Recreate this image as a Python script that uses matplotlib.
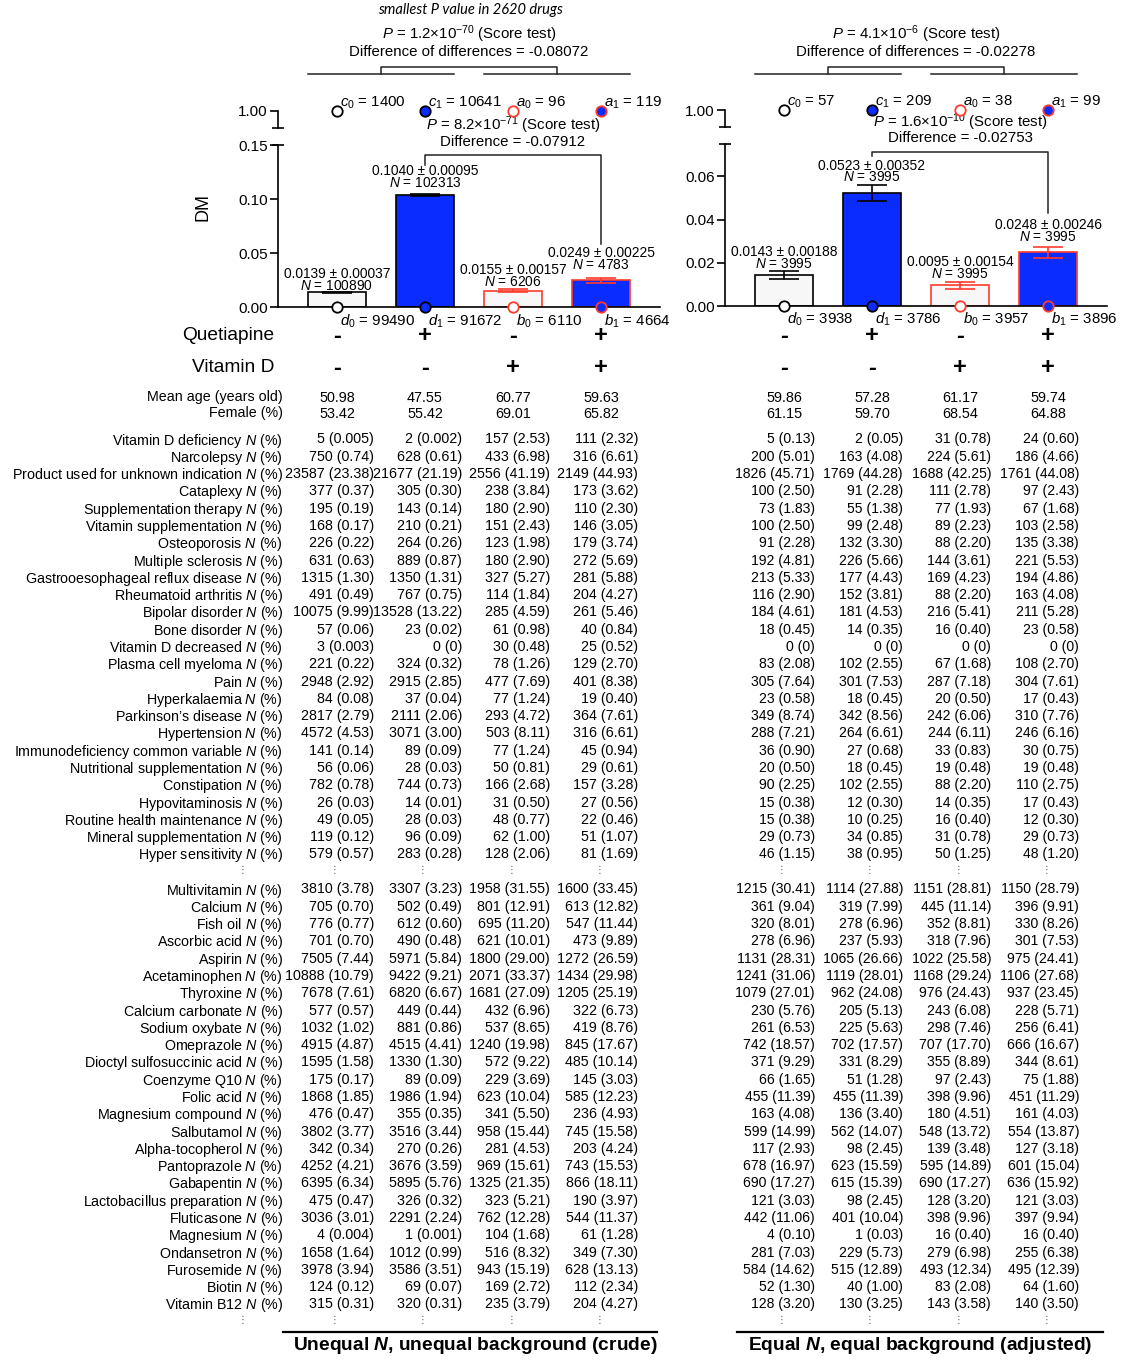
import matplotlib
matplotlib.use("Agg")
import matplotlib.pyplot as plt
from matplotlib import font_manager
from matplotlib.ticker import FormatStrFormatter

W, H = 1123, 1360
BLUE = "#0a2cff"
RED = "#ff3b2b"
PALE = "#f7f7f7"

plt.rcParams["font.family"] = "Liberation Sans"
plt.rcParams["mathtext.fontset"] = "custom"
plt.rcParams["mathtext.rm"] = "Liberation Sans"
plt.rcParams["mathtext.it"] = "Liberation Sans:italic"
plt.rcParams["mathtext.bf"] = "Liberation Sans:bold"
plt.rcParams["mathtext.bfit"] = "Liberation Sans:italic:bold"

installed = {f.name for f in font_manager.fontManager.ttflist}
NARROW = "Liberation Sans Narrow" in installed
LEFT_FONT = "Liberation Sans Narrow" if NARROW else "Liberation Sans"
LEFT_SIZE = 12.4 if NARROW else 10.3

# ---- bar data ----
quetiapine_signs = ["-", "+", "-", "+"]
vitamin_d_signs = ["-", "-", "+", "+"]
top_names = ["c_0", "c_1", "a_0", "a_1"]
bottom_names = ["d_0", "d_1", "b_0", "b_1"]

crude_dm = [0.0139, 0.1040, 0.0155, 0.0249]
crude_err = [0.00037, 0.00095, 0.00157, 0.00225]
crude_n = [100890, 102313, 6206, 4783]
crude_top = [1400, 10641, 96, 119]
crude_bottom = [99490, 91672, 6110, 4664]
crude_pair = ("8.2×10$^{-71}$", "-0.07912")
crude_group = ("1.2×10$^{-70}$", "-0.08072")

adj_dm = [0.0143, 0.0523, 0.0095, 0.0248]
adj_err = [0.00188, 0.00352, 0.00154, 0.00246]
adj_n = [3995, 3995, 3995, 3995]
adj_top = [57, 209, 38, 99]
adj_bottom = [3938, 3786, 3957, 3896]
adj_pair = ("1.6×10$^{-10}$", "-0.02753")
adj_group = ("4.1×10$^{-6}$", "-0.02278")

# ---- background table ----
crude_age = ["50.98", "47.55", "60.77", "59.63"]
crude_female = ["53.42", "55.42", "69.01", "65.82"]
adj_age = ["59.86", "57.28", "61.17", "59.74"]
adj_female = ["61.15", "59.70", "68.54", "64.88"]

indications = [
    "Vitamin D deficiency", "Narcolepsy", "Product used for unknown indication",
    "Cataplexy", "Supplementation therapy", "Vitamin supplementation",
    "Osteoporosis", "Multiple sclerosis", "Gastrooesophageal reflux disease",
    "Rheumatoid arthritis", "Bipolar disorder", "Bone disorder",
    "Vitamin D decreased", "Plasma cell myeloma", "Pain", "Hyperkalaemia",
    "Parkinson’s disease", "Hypertension", "Immunodeficiency common variable",
    "Nutritional supplementation", "Constipation", "Hypovitaminosis",
    "Routine health maintenance", "Mineral supplementation", "Hyper sensitivity",
]
crude_indications = [
    ["5 (0.005)", "2 (0.002)", "157 (2.53)", "111 (2.32)"],
    ["750 (0.74)", "628 (0.61)", "433 (6.98)", "316 (6.61)"],
    ["23587 (23.38)", "21677 (21.19)", "2556 (41.19)", "2149 (44.93)"],
    ["377 (0.37)", "305 (0.30)", "238 (3.84)", "173 (3.62)"],
    ["195 (0.19)", "143 (0.14)", "180 (2.90)", "110 (2.30)"],
    ["168 (0.17)", "210 (0.21)", "151 (2.43)", "146 (3.05)"],
    ["226 (0.22)", "264 (0.26)", "123 (1.98)", "179 (3.74)"],
    ["631 (0.63)", "889 (0.87)", "180 (2.90)", "272 (5.69)"],
    ["1315 (1.30)", "1350 (1.31)", "327 (5.27)", "281 (5.88)"],
    ["491 (0.49)", "767 (0.75)", "114 (1.84)", "204 (4.27)"],
    ["10075 (9.99)", "13528 (13.22)", "285 (4.59)", "261 (5.46)"],
    ["57 (0.06)", "23 (0.02)", "61 (0.98)", "40 (0.84)"],
    ["3 (0.003)", "0 (0)", "30 (0.48)", "25 (0.52)"],
    ["221 (0.22)", "324 (0.32)", "78 (1.26)", "129 (2.70)"],
    ["2948 (2.92)", "2915 (2.85)", "477 (7.69)", "401 (8.38)"],
    ["84 (0.08)", "37 (0.04)", "77 (1.24)", "19 (0.40)"],
    ["2817 (2.79)", "2111 (2.06)", "293 (4.72)", "364 (7.61)"],
    ["4572 (4.53)", "3071 (3.00)", "503 (8.11)", "316 (6.61)"],
    ["141 (0.14)", "89 (0.09)", "77 (1.24)", "45 (0.94)"],
    ["56 (0.06)", "28 (0.03)", "50 (0.81)", "29 (0.61)"],
    ["782 (0.78)", "744 (0.73)", "166 (2.68)", "157 (3.28)"],
    ["26 (0.03)", "14 (0.01)", "31 (0.50)", "27 (0.56)"],
    ["49 (0.05)", "28 (0.03)", "48 (0.77)", "22 (0.46)"],
    ["119 (0.12)", "96 (0.09)", "62 (1.00)", "51 (1.07)"],
    ["579 (0.57)", "283 (0.28)", "128 (2.06)", "81 (1.69)"],
]
adj_indications = [
    ["5 (0.13)", "2 (0.05)", "31 (0.78)", "24 (0.60)"],
    ["200 (5.01)", "163 (4.08)", "224 (5.61)", "186 (4.66)"],
    ["1826 (45.71)", "1769 (44.28)", "1688 (42.25)", "1761 (44.08)"],
    ["100 (2.50)", "91 (2.28)", "111 (2.78)", "97 (2.43)"],
    ["73 (1.83)", "55 (1.38)", "77 (1.93)", "67 (1.68)"],
    ["100 (2.50)", "99 (2.48)", "89 (2.23)", "103 (2.58)"],
    ["91 (2.28)", "132 (3.30)", "88 (2.20)", "135 (3.38)"],
    ["192 (4.81)", "226 (5.66)", "144 (3.61)", "221 (5.53)"],
    ["213 (5.33)", "177 (4.43)", "169 (4.23)", "194 (4.86)"],
    ["116 (2.90)", "152 (3.81)", "88 (2.20)", "163 (4.08)"],
    ["184 (4.61)", "181 (4.53)", "216 (5.41)", "211 (5.28)"],
    ["18 (0.45)", "14 (0.35)", "16 (0.40)", "23 (0.58)"],
    ["0 (0)", "0 (0)", "0 (0)", "0 (0)"],
    ["83 (2.08)", "102 (2.55)", "67 (1.68)", "108 (2.70)"],
    ["305 (7.64)", "301 (7.53)", "287 (7.18)", "304 (7.61)"],
    ["23 (0.58)", "18 (0.45)", "20 (0.50)", "17 (0.43)"],
    ["349 (8.74)", "342 (8.56)", "242 (6.06)", "310 (7.76)"],
    ["288 (7.21)", "264 (6.61)", "244 (6.11)", "246 (6.16)"],
    ["36 (0.90)", "27 (0.68)", "33 (0.83)", "30 (0.75)"],
    ["20 (0.50)", "18 (0.45)", "19 (0.48)", "19 (0.48)"],
    ["90 (2.25)", "102 (2.55)", "88 (2.20)", "110 (2.75)"],
    ["15 (0.38)", "12 (0.30)", "14 (0.35)", "17 (0.43)"],
    ["15 (0.38)", "10 (0.25)", "16 (0.40)", "12 (0.30)"],
    ["29 (0.73)", "34 (0.85)", "31 (0.78)", "29 (0.73)"],
    ["46 (1.15)", "38 (0.95)", "50 (1.25)", "48 (1.20)"],
]

comedications = [
    "Multivitamin", "Calcium", "Fish oil", "Ascorbic acid", "Aspirin",
    "Acetaminophen", "Thyroxine", "Calcium carbonate", "Sodium oxybate",
    "Omeprazole", "Dioctyl sulfosuccinic acid", "Coenzyme Q10", "Folic acid",
    "Magnesium compound", "Salbutamol", "Alpha-tocopherol", "Pantoprazole",
    "Gabapentin", "Lactobacillus preparation", "Fluticasone", "Magnesium",
    "Ondansetron", "Furosemide", "Biotin", "Vitamin B12",
]
crude_comeds = [
    ["3810 (3.78)", "3307 (3.23)", "1958 (31.55)", "1600 (33.45)"],
    ["705 (0.70)", "502 (0.49)", "801 (12.91)", "613 (12.82)"],
    ["776 (0.77)", "612 (0.60)", "695 (11.20)", "547 (11.44)"],
    ["701 (0.70)", "490 (0.48)", "621 (10.01)", "473 (9.89)"],
    ["7505 (7.44)", "5971 (5.84)", "1800 (29.00)", "1272 (26.59)"],
    ["10888 (10.79)", "9422 (9.21)", "2071 (33.37)", "1434 (29.98)"],
    ["7678 (7.61)", "6820 (6.67)", "1681 (27.09)", "1205 (25.19)"],
    ["577 (0.57)", "449 (0.44)", "432 (6.96)", "322 (6.73)"],
    ["1032 (1.02)", "881 (0.86)", "537 (8.65)", "419 (8.76)"],
    ["4915 (4.87)", "4515 (4.41)", "1240 (19.98)", "845 (17.67)"],
    ["1595 (1.58)", "1330 (1.30)", "572 (9.22)", "485 (10.14)"],
    ["175 (0.17)", "89 (0.09)", "229 (3.69)", "145 (3.03)"],
    ["1868 (1.85)", "1986 (1.94)", "623 (10.04)", "585 (12.23)"],
    ["476 (0.47)", "355 (0.35)", "341 (5.50)", "236 (4.93)"],
    ["3802 (3.77)", "3516 (3.44)", "958 (15.44)", "745 (15.58)"],
    ["342 (0.34)", "270 (0.26)", "281 (4.53)", "203 (4.24)"],
    ["4252 (4.21)", "3676 (3.59)", "969 (15.61)", "743 (15.53)"],
    ["6395 (6.34)", "5895 (5.76)", "1325 (21.35)", "866 (18.11)"],
    ["475 (0.47)", "326 (0.32)", "323 (5.21)", "190 (3.97)"],
    ["3036 (3.01)", "2291 (2.24)", "762 (12.28)", "544 (11.37)"],
    ["4 (0.004)", "1 (0.001)", "104 (1.68)", "61 (1.28)"],
    ["1658 (1.64)", "1012 (0.99)", "516 (8.32)", "349 (7.30)"],
    ["3978 (3.94)", "3586 (3.51)", "943 (15.19)", "628 (13.13)"],
    ["124 (0.12)", "69 (0.07)", "169 (2.72)", "112 (2.34)"],
    ["315 (0.31)", "320 (0.31)", "235 (3.79)", "204 (4.27)"],
]
adj_comeds = [
    ["1215 (30.41)", "1114 (27.88)", "1151 (28.81)", "1150 (28.79)"],
    ["361 (9.04)", "319 (7.99)", "445 (11.14)", "396 (9.91)"],
    ["320 (8.01)", "278 (6.96)", "352 (8.81)", "330 (8.26)"],
    ["278 (6.96)", "237 (5.93)", "318 (7.96)", "301 (7.53)"],
    ["1131 (28.31)", "1065 (26.66)", "1022 (25.58)", "975 (24.41)"],
    ["1241 (31.06)", "1119 (28.01)", "1168 (29.24)", "1106 (27.68)"],
    ["1079 (27.01)", "962 (24.08)", "976 (24.43)", "937 (23.45)"],
    ["230 (5.76)", "205 (5.13)", "243 (6.08)", "228 (5.71)"],
    ["261 (6.53)", "225 (5.63)", "298 (7.46)", "256 (6.41)"],
    ["742 (18.57)", "702 (17.57)", "707 (17.70)", "666 (16.67)"],
    ["371 (9.29)", "331 (8.29)", "355 (8.89)", "344 (8.61)"],
    ["66 (1.65)", "51 (1.28)", "97 (2.43)", "75 (1.88)"],
    ["455 (11.39)", "455 (11.39)", "398 (9.96)", "451 (11.29)"],
    ["163 (4.08)", "136 (3.40)", "180 (4.51)", "161 (4.03)"],
    ["599 (14.99)", "562 (14.07)", "548 (13.72)", "554 (13.87)"],
    ["117 (2.93)", "98 (2.45)", "139 (3.48)", "127 (3.18)"],
    ["678 (16.97)", "623 (15.59)", "595 (14.89)", "601 (15.04)"],
    ["690 (17.27)", "615 (15.39)", "690 (17.27)", "636 (15.92)"],
    ["121 (3.03)", "98 (2.45)", "128 (3.20)", "121 (3.03)"],
    ["442 (11.06)", "401 (10.04)", "398 (9.96)", "397 (9.94)"],
    ["4 (0.10)", "1 (0.03)", "16 (0.40)", "16 (0.40)"],
    ["281 (7.03)", "229 (5.73)", "279 (6.98)", "255 (6.38)"],
    ["584 (14.62)", "515 (12.89)", "493 (12.34)", "495 (12.39)"],
    ["52 (1.30)", "40 (1.00)", "83 (2.08)", "64 (1.60)"],
    ["128 (3.20)", "130 (3.25)", "143 (3.58)", "140 (3.50)"],
]

fig = plt.figure(figsize=(W / 100, H / 100), dpi=100)
over = fig.add_axes([0, 0, 1, 1])
over.set_xlim(0, W)
over.set_ylim(H, 0)
over.axis("off")

faces = [PALE, BLUE, PALE, BLUE]
edges = ["black", "black", RED, RED]
dot_faces = ["white", BLUE, "white", BLUE]
LINE = "#222222"


def px_axes(x0, y0, x1, y1):
    return fig.add_axes([x0 / W, 1 - y1 / H, (x1 - x0) / W, (y1 - y0) / H])


def to_px(ax, x, y):
    dx, dy = ax.transData.transform((x, y))
    return dx, H - dy


def draw_panel(x0, x1, y_top, y_base, stub, ymax, yticks, dm, err, n,
               top_counts, bottom_counts, pair, group, label_pads, pair_top):
    xs = list(range(4))
    ax = px_axes(x0, y_top, x1, y_base)
    ax.set_xlim(-0.67, 3.67)
    ax.set_ylim(0, ymax)
    ax.patch.set_visible(False)
    for s in ("top", "right"):
        ax.spines[s].set_visible(False)
    for s in ("left", "bottom"):
        ax.spines[s].set_linewidth(1.2)
    ax.set_xticks([])
    ax.set_yticks(yticks)
    ax.yaxis.set_major_formatter(FormatStrFormatter("%.2f"))
    ax.tick_params(axis="y", length=6, width=1.2, labelsize=11, pad=1.5)
    cap = 6 / (x1 - x0)
    ax.plot([-cap, cap], [1, 1], transform=ax.transAxes, color="black",
            lw=1.2, clip_on=False, solid_capstyle="butt")

    ax.bar(xs, dm, width=0.66, color=faces, edgecolor=edges, linewidth=1.2,
           zorder=2)
    for i in xs:
        ax.errorbar(xs[i], dm[i], yerr=err[i], color=edges[i], capsize=11,
                    elinewidth=1.2, capthick=1.2, zorder=3)
        ax.plot(xs[i], 0, "o", mfc=dot_faces[i], mec=edges[i], ms=7.5,
                mew=1.3, clip_on=False, zorder=6)
        ax.annotate(f"{dm[i]:.4f} ± {err[i]:.5f}\n$N$ = {n[i]}",
                    xy=(xs[i], dm[i] + err[i]), xytext=(0, label_pads[i]),
                    textcoords="offset points", ha="center", va="bottom",
                    fontsize=9.9, linespacing=0.78)
        ax.annotate(f"${bottom_names[i]}$ = {bottom_counts[i]}",
                    xy=(xs[i], 0), xytext=(2.2, -13), textcoords="offset points",
                    ha="left", va="baseline", fontsize=10.8)

    # stub of the broken axis holding the 1.00 level
    st = px_axes(x0, stub[0], x1, stub[1])
    st.set_xlim(-0.67, 3.67)
    st.set_ylim(0.9, 1.0)
    st.patch.set_visible(False)
    for s in ("top", "right", "bottom"):
        st.spines[s].set_visible(False)
    st.spines["left"].set_linewidth(1.2)
    st.set_xticks([])
    st.set_yticks([1.0])
    st.yaxis.set_major_formatter(FormatStrFormatter("%.2f"))
    st.tick_params(axis="y", length=6, width=1.2, labelsize=11, pad=1.5)
    st.plot([-cap, cap], [0, 0], transform=st.transAxes, color="black",
            lw=1.2, clip_on=False, solid_capstyle="butt")
    for i in xs:
        st.plot(xs[i], 1.0, "o", mfc=dot_faces[i], mec=edges[i], ms=7.5,
                mew=1.3, clip_on=False, zorder=6)
        st.annotate(f"${top_names[i]}$ = {top_counts[i]}", xy=(xs[i], 1.0),
                    xytext=(2.2, 3), textcoords="offset points", ha="left",
                    va="baseline", fontsize=10.8)

    # bracket between the two quetiapine groups
    bx1, ty1 = to_px(ax, 1, dm[1] + err[1])
    bx3, ty3 = to_px(ax, 3, dm[3] + err[3])
    leg1, leg3 = ty1 - 29, ty3 - 34
    over.plot([bx1, bx1, bx3, bx3], [leg1, pair_top, pair_top, leg3],
              color=LINE, lw=1.1)
    mid = (bx1 + bx3) / 2
    over.text(mid, pair_top - 25, f"$P$ = {pair[0]} (Score test)",
              ha="center", va="baseline", fontsize=10.8)
    over.text(mid, pair_top - 9.5, f"Difference = {pair[1]}", ha="center",
              va="baseline", fontsize=10.8)

    # difference-of-differences bracket over both pairs
    l0 = to_px(ax, -0.33, 0)[0]
    l1 = to_px(ax, 1.33, 0)[0]
    r0 = to_px(ax, 1.67, 0)[0]
    r1 = to_px(ax, 3.33, 0)[0]
    over.plot([l0, l1], [74, 74], color=LINE, lw=1.1)
    over.plot([r0, r1], [74, 74], color=LINE, lw=1.1)
    m0, m1 = (l0 + l1) / 2, (r0 + r1) / 2
    over.plot([m0, m0, m1, m1], [74, 67, 67, 74], color=LINE, lw=1.1)
    over.text((m0 + m1) / 2, 39, f"$P$ = {group[0]} (Score test)",
              ha="center", va="baseline", fontsize=10.8)
    over.text((m0 + m1) / 2, 56, f"Difference of differences = {group[1]}",
              ha="center", va="baseline", fontsize=10.8)

    for i in xs:
        px = to_px(ax, i, 0)[0]
        over.text(px, 336, quetiapine_signs[i], ha="center", va="center",
                  fontsize=17, fontweight="bold")
        over.text(px, 368, vitamin_d_signs[i], ha="center", va="center",
                  fontsize=17, fontweight="bold")
    return ax


ax_l = draw_panel(278, 660, 145.3, 307.3, (111, 128), 0.15,
                  [0, 0.05, 0.10, 0.15], crude_dm, crude_err, crude_n,
                  crude_top, crude_bottom, crude_pair, crude_group,
                  [-0.5, 3.0, 0.2, 4.5], 155)
ax_r = draw_panel(725, 1107, 144, 306, (110, 127), 0.075,
                  [0, 0.02, 0.04, 0.06], adj_dm, adj_err, adj_n,
                  adj_top, adj_bottom, adj_pair, adj_group,
                  [0.2, 0.8, 0.8, 2.2], 152)

over.text(470, 10, "smallest P value in 2620 drugs", ha="center", va="center",
          family=["Lato", "DejaVu Sans"], style="italic", fontsize=10.5)
over.text(203, 207, "DM", rotation=90, ha="center", va="center", fontsize=13)
over.text(274, 335, "Quetiapine", ha="right", va="center", fontsize=13.8)
over.text(274, 368, "Vitamin D", ha="right", va="center", fontsize=13.8)

# ---- table under the bars ----
ROW = 17.29
LABEL_X = 283


def col_x(ax, i):
    return to_px(ax, i, 0)[0]


def table_block(ax, rows, y0, shift, family, size):
    for r, row in enumerate(rows):
        for i, s in enumerate(row):
            over.text(col_x(ax, i) + shift, y0 + r * ROW, s, ha="right",
                      va="center_baseline", family=family, fontsize=size)


for label, y in (("Mean age (years old)", 396), ("Female (%)", 412)):
    over.text(LABEL_X, y, label, ha="right", va="center_baseline",
              family=LEFT_FONT, fontsize=LEFT_SIZE)
for ax, age, fem in ((ax_l, crude_age, crude_female), (ax_r, adj_age, adj_female)):
    for i in range(4):
        over.text(col_x(ax, i), 396, age[i], ha="center", va="center_baseline",
                  fontsize=10.4)
        over.text(col_x(ax, i), 412, fem[i], ha="center", va="center_baseline",
                  fontsize=10.4)

for names, y0 in ((indications, 438), (comedications, 888)):
    for r, name in enumerate(names):
        over.text(LABEL_X, y0 + r * ROW, f"{name} $N$ (%)", ha="right",
                  va="center_baseline", family=LEFT_FONT, fontsize=LEFT_SIZE)

table_block(ax_l, crude_indications, 438, 37, LEFT_FONT, LEFT_SIZE)
table_block(ax_l, crude_comeds, 888, 37, LEFT_FONT, LEFT_SIZE)
table_block(ax_r, adj_indications, 438, 31, "Liberation Sans", 10.1)
table_block(ax_r, adj_comeds, 888, 31, "Liberation Sans", 10.1)

# vertical ellipses marking omitted rows
for y in (870, 1320):
    over.text(243, y, "⋮", ha="center", va="center", family="DejaVu Sans",
              fontsize=7, color="#555555")
    for ax in (ax_l, ax_r):
        for i in range(4):
            over.text(col_x(ax, i) - 2, y, "⋮", ha="center", va="center",
                      family="DejaVu Sans", fontsize=7, color="#555555")

over.plot([283, 657], [1332, 1332], color="black", lw=1.6)
over.plot([737, 1103], [1332, 1332], color="black", lw=1.6)
over.text(475, 1346, r"Unequal $\mathbfit{N}$, unequal background (crude)",
          ha="center", va="center", fontsize=13.8, fontweight="bold")
over.text(920, 1346, r"Equal $\mathbfit{N}$, equal background (adjusted)",
          ha="center", va="center", fontsize=13.8, fontweight="bold")

fig.savefig("out.png", dpi=100)
